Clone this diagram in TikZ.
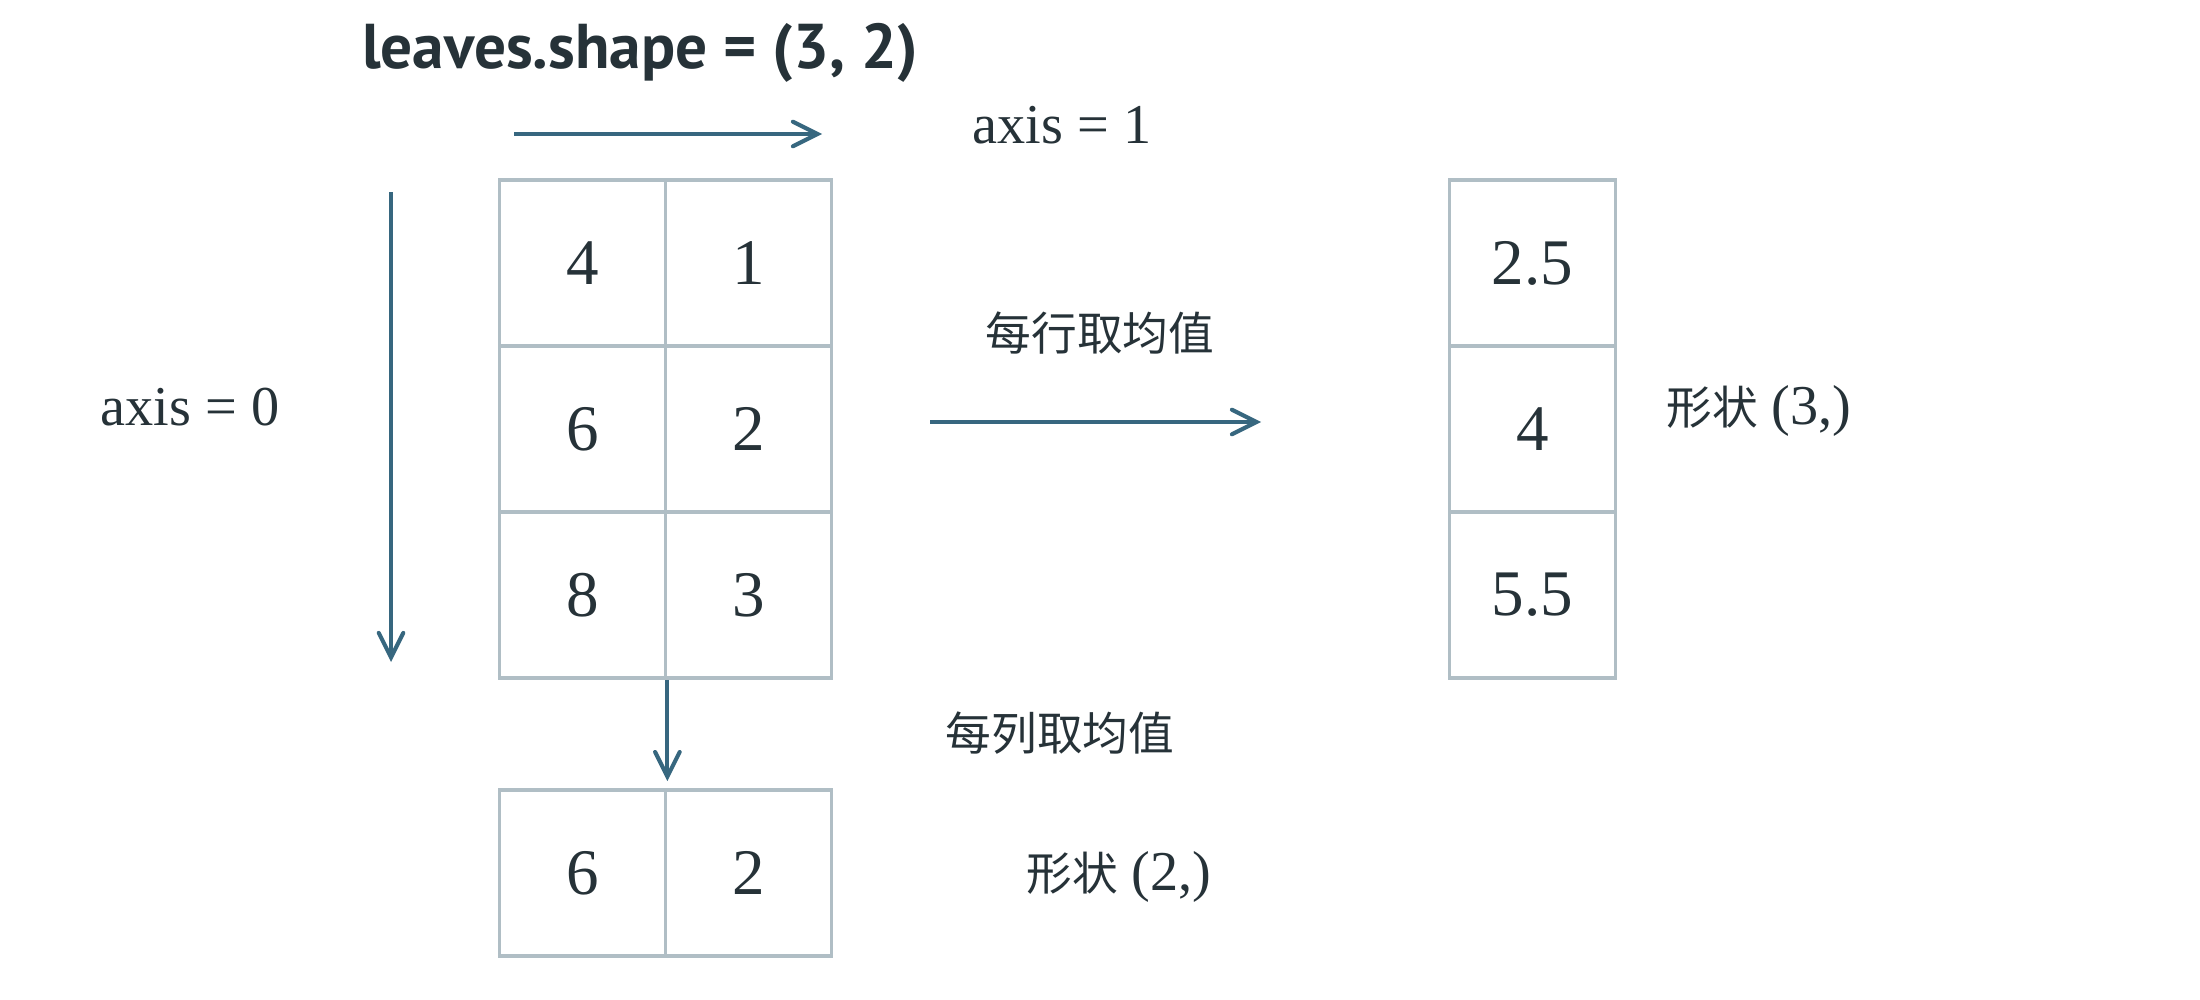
\documentclass[tikz,border=0pt]{standalone}
\usepackage{fontspec}
\setmainfont{Liberation Serif}
\newfontfamily\cjk{Noto Sans CJK SC}
\newfontfamily\titlefont{PT Sans}
\usetikzlibrary{arrows.meta}
\definecolor{inkText}{HTML}{263238}
\definecolor{axisBlue}{HTML}{37677F}
\definecolor{gridGrey}{HTML}{B0BEC5}

\begin{document}
\begin{tikzpicture}[x=0.01cm,y=-0.01cm]
 \tikzset{
  cellBox/.style={rectangle,draw=gridGrey,line width=1.05pt,minimum width=1.66cm,minimum height=1.66cm,inner sep=0pt,text=inkText,font=\fontsize{18.5}{22}\selectfont},
  axisArrow/.style={-{Straight Barb[length=7pt,width=7pt,line cap=round]},axisBlue,line width=1.15pt},
  noteText/.style={text=inkText,inner sep=0pt,font=\fontsize{16}{19}\selectfont},
  cjkText/.style={text=inkText,inner sep=0pt,font=\cjk\fontsize{13}{16}\selectfont}
  }
  \useasboundingbox (0,0) rectangle (2200,1000);
  % title
  \node[text=inkText,inner sep=0pt,font=\titlefont\bfseries\fontsize{18}{22}\selectfont] (title) at (640,53) {leaves.shape = (3, 2)};

  % the input array
  \node[cellBox] (a11) at (582.5,263) {4};
  \node[cellBox] (a12) at (748.5,263) {1};
  \node[cellBox] (a21) at (582.5,429) {6};
  \node[cellBox] (a22) at (748.5,429) {2};
  \node[cellBox] (a31) at (582.5,595) {8};
  \node[cellBox] (a32) at (748.5,595) {3};

  % mean over each row
  \node[cellBox] (r1) at (1532.5,263) {2.5};
  \node[cellBox] (r2) at (1532.5,429) {4};
  \node[cellBox] (r3) at (1532.5,595) {5.5};

  % mean over each column
  \node[cellBox] (c1) at (582.5,873) {6};
  \node[cellBox] (c2) at (748.5,873) {2};

  % axis arrows
  \coordinate (h0) at (514,134);
  \coordinate (h1) at (822,134);
  \coordinate (v0) at (391,192);
  \coordinate (v1) at (391,662);
  \draw[axisArrow] (h0) -- (h1);
  \draw[axisArrow] (v0) -- (v1);
  \node[noteText] (lAx1) at (1062,125.5) {axis = 1};
  \node[noteText] (lAx0) at (190,407) {axis = 0};

  % reduction arrows
  \coordinate (m0) at (930,422);
  \coordinate (m1) at (1261,422);
  \draw[axisArrow] (m0) -- (m1);
  \draw[axisArrow,shorten >=2pt] (a31.south east) -- (c1.north east);

  \node[cjkText] (lRow) at (1100,333) {每行取均值};
  \node[cjkText] (lCol) at (1060,733) {每列取均值};
  \node[noteText] (sRow) at (1759,411) {{\cjk\fontsize{13}{16}\selectfont 形状} (3,)};
  \node[noteText] (sCol) at (1119,877) {{\cjk\fontsize{13}{16}\selectfont 形状} (2,)};
\end{tikzpicture}
\end{document}
